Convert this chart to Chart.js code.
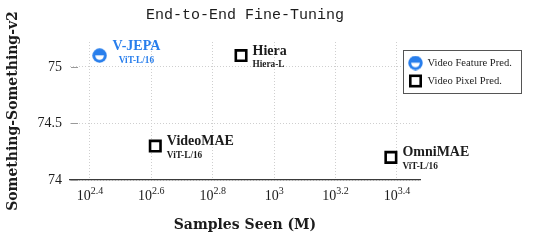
<!DOCTYPE html>
<html>
<head>
<meta charset="utf-8">
<script src="https://cdn.jsdelivr.net/npm/chart.js@4.4.1/dist/chart.umd.min.js"></script>
<style>
  html, body { margin: 0; padding: 0; background: #ffffff; }
  #wrap { width: 543px; height: 240px; }
</style>
</head>
<body>
<div id="wrap"><canvas id="c" width="543" height="240"></canvas></div>
<script>
// ---- data ----
const models = ['V-JEPA', 'Hiera', 'VideoMAE', 'OmniMAE'];
const architectures = ['ViT-L/16', 'Hiera-L', 'ViT-L/16', 'ViT-L/16'];
const samplesSeen = [270, 780, 410, 2400];          // millions
const ssv2Accuracy = [75.1, 75.1, 74.3, 74.2];
const methodType = ['Video Feature Pred.', 'Video Pixel Pred.', 'Video Pixel Pred.', 'Video Pixel Pred.'];
const methodNames = ['Video Feature Pred.', 'Video Pixel Pred.'];
const yTickValues = [74, 74.5, 75];
const xTickExponents = ['2.4', '2.6', '2.8', '3', '3.2', '3.4'];

// ---- style ----
const BLUE = 'rgb(40,126,236)';
const INK = '#1c1c1c';
const SERIF = '"Liberation Serif", "DejaVu Serif", serif';
const TITLE_SERIF = '"DejaVu Serif", serif';

function makeFeatureMarker(d) {
  const c = document.createElement('canvas');
  c.width = d; c.height = d;
  const g = c.getContext('2d');
  const r = d / 2;
  g.fillStyle = BLUE;
  g.beginPath(); g.arc(r, r, r - 0.3, 0, Math.PI * 2); g.fill();
  g.fillStyle = '#ffffff';
  g.beginPath(); g.arc(r, r - 0.2, r * 0.58, 0, Math.PI); g.closePath(); g.fill();
  return c;
}
const featureMarker = makeFeatureMarker(15);

const datasets = methodNames.map((name, k) => {
  const idx = models.map((m, i) => i).filter(i => methodType[i] === name);
  const isFeature = k === 0;
  return {
    label: name,
    data: idx.map(i => ({ x: samplesSeen[i], y: ssv2Accuracy[i], name: models[i], arch: architectures[i] })),
    pointStyle: isFeature ? featureMarker : 'rect',
    pointRadius: isFeature ? 7.5 : 7.4,
    pointHoverRadius: isFeature ? 7.5 : 7.4,
    borderWidth: isFeature ? 0 : 2.6,
    borderColor: isFeature ? BLUE : '#000000',
    backgroundColor: isFeature ? BLUE : '#ffffff',
    labelColor: isFeature ? BLUE : INK,
    labelCentered: isFeature
  };
});

// point annotations: names + architecture
const pointLabels = {
  id: 'pointLabels',
  afterDatasetsDraw(chart) {
    const ctx = chart.ctx;
    chart.data.datasets.forEach((ds, di) => {
      const meta = chart.getDatasetMeta(di);
      meta.data.forEach((el, j) => {
        const p = ds.data[j];
        ctx.save();
        ctx.fillStyle = ds.labelColor;
        ctx.textBaseline = 'alphabetic';
        ctx.font = 'bold 14px ' + SERIF;
        const w1 = ctx.measureText(p.name).width;
        ctx.font = 'bold 9.3px ' + SERIF;
        const w2 = ctx.measureText(p.arch).width;
        if (ds.labelCentered) {
          const x0 = el.x + 13;
          ctx.font = 'bold 14px ' + SERIF;
          ctx.textAlign = 'left';
          ctx.fillText(p.name, x0, el.y - 6);
          ctx.font = 'bold 9.3px ' + SERIF;
          ctx.textAlign = 'center';
          ctx.fillText(p.arch, x0 + w1 / 2, el.y + 7.5);
        } else {
          const x0 = el.x + 11.5;
          ctx.textAlign = 'left';
          ctx.font = 'bold 14px ' + SERIF;
          ctx.fillText(p.name, x0, el.y - 1);
          ctx.font = 'bold 9.3px ' + SERIF;
          ctx.fillText(p.arch, x0, el.y + 11.5);
        }
        ctx.restore();
      });
    });
  }
};

// x tick labels with superscripts + inner y tick marks
const axisExtras = {
  id: 'axisExtras',
  afterDraw(chart) {
    const ctx = chart.ctx;
    const xs = chart.scales.x, ys = chart.scales.y;
    const area = chart.chartArea;
    ctx.save();
    ctx.fillStyle = INK;
    ctx.textBaseline = 'alphabetic';
    xTickExponents.forEach(e => {
      const px = xs.getPixelForValue(Math.pow(10, parseFloat(e)));
      ctx.font = '14px ' + SERIF;
      const wb = ctx.measureText('10').width;
      const sup = e === '3' ? '3' : e;
      const base = e === '3' ? '10' : '10';
      ctx.font = '10px ' + SERIF;
      const ws = ctx.measureText(e).width;
      const total = wb + ws;
      const left = px - total / 2;
      ctx.font = '14px ' + SERIF;
      ctx.textAlign = 'left';
      ctx.fillText(base, left, area.bottom + 20);
      ctx.font = '10px ' + SERIF;
      ctx.fillText(e, left + wb, area.bottom + 14);
    });
    // small y tick marks inside the plot
    ctx.strokeStyle = '#9a9a9a';
    ctx.lineWidth = 1;
    yTickValues.forEach(v => {
      const py = Math.round(ys.getPixelForValue(v)) + 0.5;
      ctx.beginPath();
      ctx.moveTo(area.left + 1, py);
      ctx.lineTo(area.left + 8, py);
      ctx.stroke();
    });
    ctx.restore();
  }
};

// framed legend placed at upper right
const boxLegend = {
  id: 'boxLegend',
  afterDraw(chart) {
    const ctx = chart.ctx;
    const x = 403.5, y = 50.5, w = 118, h = 43;
    ctx.save();
    ctx.fillStyle = '#ffffff';
    ctx.fillRect(x, y, w, h);
    ctx.strokeStyle = '#555555';
    ctx.lineWidth = 1;
    ctx.strokeRect(x, y, w, h);
    chart.data.datasets.forEach((ds, i) => {
      const cy = y + 12.5 + i * 18;
      const cx = x + 12;
      if (ds.pointStyle instanceof HTMLCanvasElement) {
        ctx.drawImage(ds.pointStyle, cx - 7.5, cy - 7.5, 15, 15);
      } else {
        ctx.strokeStyle = ds.borderColor;
        ctx.lineWidth = ds.borderWidth;
        ctx.fillStyle = ds.backgroundColor;
        const s = 5.2;
        ctx.fillRect(cx - s, cy - s, 2 * s, 2 * s);
        ctx.strokeRect(cx - s, cy - s, 2 * s, 2 * s);
      }
      ctx.fillStyle = INK;
      ctx.font = '10.6px ' + SERIF;
      ctx.textAlign = 'left';
      ctx.textBaseline = 'middle';
      ctx.fillText(ds.label, x + 24, cy + 0.5);
    });
    ctx.restore();
  }
};

new Chart(document.getElementById('c'), {
  type: 'scatter',
  data: { datasets },
  plugins: [pointLabels, axisExtras, boxLegend],
  options: {
    responsive: false,
    devicePixelRatio: 1,
    animation: false,
    layout: { padding: { left: 0, right: 123, top: 0, bottom: 0 } },
    plugins: {
      legend: { display: false },
      tooltip: { enabled: false },
      title: {
        display: true,
        fullSize: false,
        text: 'End-to-End Fine-Tuning',
        color: INK,
        font: { family: '"Liberation Mono", "DejaVu Sans Mono", monospace', size: 15, weight: 'normal' },
        padding: { top: 6, bottom: 18 }
      }
    },
    scales: {
      x: {
        type: 'logarithmic',
        min: Math.pow(10, 2.335),
        max: Math.pow(10, 3.475),
        afterBuildTicks: s => { s.ticks = xTickExponents.map(e => ({ value: Math.pow(10, parseFloat(e)) })); },
        afterFit: s => { s.height = 60; },
        ticks: { display: false },
        grid: { color: '#cfcfcf', lineWidth: 1, drawTicks: false },
        border: { display: true, color: '#3a3a3a', width: 1.2, dash: [1, 2] },
        title: {
          display: true,
          text: 'Samples Seen (M)',
          color: INK,
          font: { family: TITLE_SERIF, size: 14, weight: 'bold' },
          padding: { top: 0, bottom: 6 }
        }
      },
      y: {
        type: 'linear',
        min: 74,
        max: 75.22,
        afterBuildTicks: s => { s.ticks = yTickValues.map(v => ({ value: v })); },
        afterFit: s => { s.width = 70; },
        ticks: {
          color: INK,
          font: { family: SERIF, size: 14 },
          padding: 8,
          callback: v => String(v)
        },
        grid: { color: '#cfcfcf', lineWidth: 1, drawTicks: false },
        border: { display: false, dash: [1, 2] },
        title: {
          display: true,
          text: 'Something-Something-v2',
          color: INK,
          font: { family: TITLE_SERIF, size: 14, weight: 'bold' },
          padding: { top: 5, bottom: 0 }
        }
      }
    }
  }
});
</script>
</body>
</html>
